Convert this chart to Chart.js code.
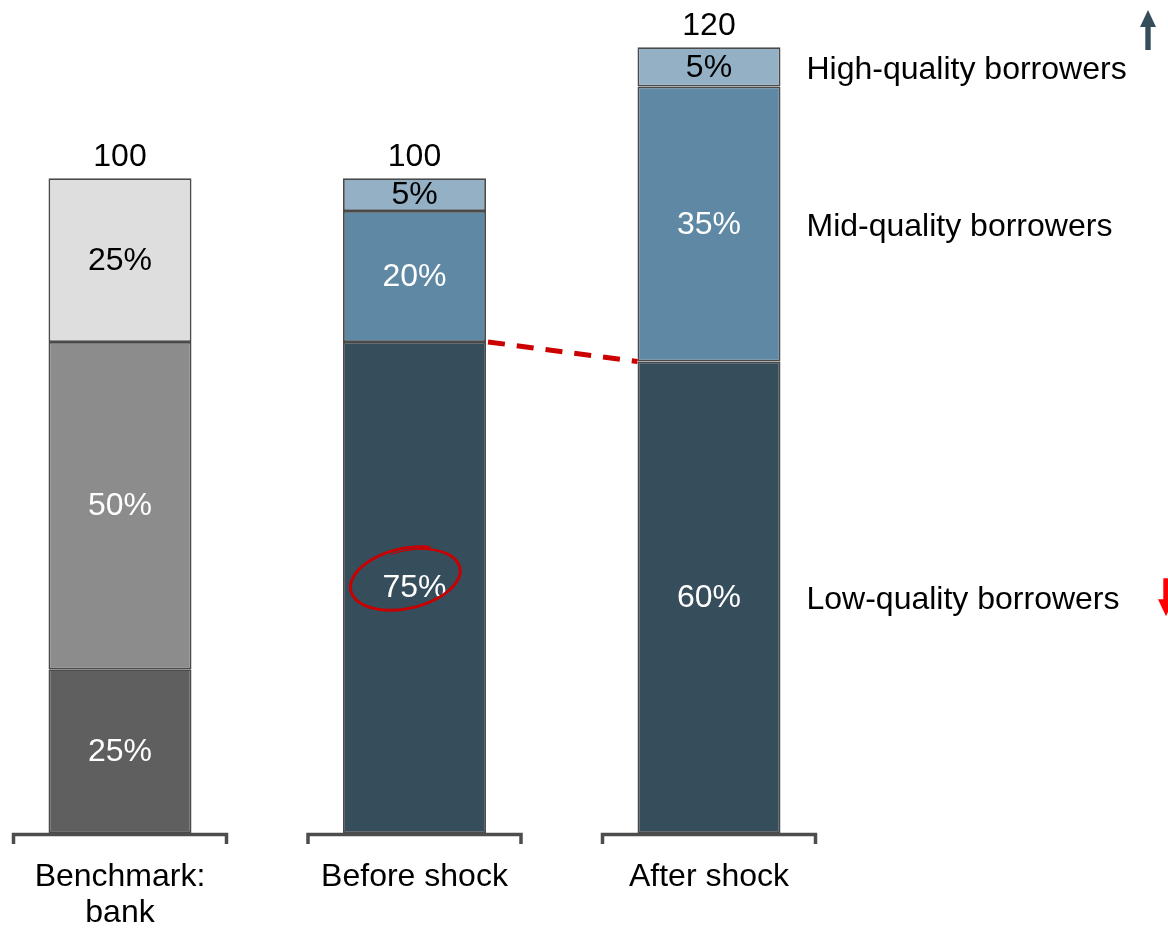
<!DOCTYPE html>
<html>
<head>
<meta charset="utf-8">
<style>
  html, body { margin: 0; padding: 0; background: #ffffff; }
  #wrap { width: 1168px; height: 929px; position: relative; }
</style>
<script src="https://cdn.jsdelivr.net/npm/chart.js@4.4.1/dist/chart.umd.min.js"></script>
</head>
<body>
<div id="wrap"><canvas id="c" width="1168" height="929"></canvas></div>
<script>
// Loan book composition by borrower quality
const categories = ['Benchmark:\nbank', 'Before shock', 'After shock'];
const totals = [100, 100, 120];
const lowShare = [25, 75, 60];
const midShare = [50, 20, 35];
const highShare = [25, 5, 5];
const seriesNames = ['Low-quality borrowers', 'Mid-quality borrowers', 'High-quality borrowers'];

const shares = [lowShare, midShare, highShare];
const FONT = '"Liberation Sans", Arial, Helvetica, sans-serif';

// benchmark bar is grey, the two scenario bars are blue
const fills = [
  ['#5f5f5f', '#364d5c', '#364d5c'],
  ['#8c8c8c', '#5f88a4', '#5f88a4'],
  ['#dedede', '#94b0c5', '#94b0c5']
];
const textColors = [
  ['#ffffff', '#ffffff', '#ffffff'],
  ['#ffffff', '#ffffff', '#ffffff'],
  ['#000000', '#000000', '#000000']
];

const datasets = shares.map((s, di) => ({
  label: seriesNames[di],
  data: s.map((pct, i) => ({ x: i, y: totals[i] * pct / 100 })),
  backgroundColor: fills[di],
  borderColor: '#4a4a4a',
  borderWidth: 1.8,
  borderSkipped: false,
  barPercentage: 0.4856,
  categoryPercentage: 1
}));

function arrow(ctx, cx, y0, y1, color) {
  // y0 = tail end, y1 = tip
  const dir = Math.sign(y1 - y0);
  const headLen = 17, headHalf = 8, shaftHalf = 2.7;
  const yHead = y1 - dir * headLen;
  ctx.fillStyle = color;
  ctx.fillRect(cx - shaftHalf, Math.min(y0, yHead), shaftHalf * 2, Math.abs(yHead - y0) + 1);
  ctx.beginPath();
  ctx.moveTo(cx - headHalf, yHead);
  ctx.lineTo(cx + headHalf, yHead);
  ctx.lineTo(cx, y1);
  ctx.closePath();
  ctx.fill();
}

const overlay = {
  id: 'overlay',
  afterDatasetsDraw(chart) {
    const ctx = chart.ctx;
    const metas = [0, 1, 2].map(i => chart.getDatasetMeta(i));
    const yBase = chart.chartArea.bottom;
    ctx.save();

    // bracket under each bar
    ctx.strokeStyle = '#4d4d4d';
    ctx.lineWidth = 3.5;
    ctx.lineJoin = 'miter';
    metas[0].data.forEach(bar => {
      const l = bar.x - 108, r = bar.x + 108;
      ctx.beginPath();
      ctx.moveTo(l + 1.5, yBase + 11);
      ctx.lineTo(l + 1.5, yBase + 1.5);
      ctx.lineTo(r - 1.5, yBase + 1.5);
      ctx.lineTo(r - 1.5, yBase + 11);
      ctx.stroke();
    });

    // segment shares
    ctx.font = '32px ' + FONT;
    ctx.textAlign = 'center';
    ctx.textBaseline = 'middle';
    metas.forEach((m, di) => m.data.forEach((bar, i) => {
      ctx.fillStyle = textColors[di][i];
      ctx.fillText(shares[di][i] + '%', bar.x, (bar.y + bar.base) / 2 + 1);
    }));

    // totals above bars
    ctx.fillStyle = '#000000';
    ctx.textBaseline = 'alphabetic';
    metas[2].data.forEach((bar, i) => {
      ctx.fillText(String(totals[i]), bar.x, bar.y - 12);
    });

    // series names beside the last bar
    const last = categories.length - 1;
    ctx.textAlign = 'left';
    ctx.textBaseline = 'middle';
    metas.forEach((m, di) => {
      const bar = m.data[last];
      ctx.fillText(seriesNames[di], bar.x + bar.width / 2 + 26, (bar.y + bar.base) / 2 + 3);
    });

    // dashed link between low-quality tops
    const b1 = metas[0].data[1], b2 = metas[0].data[2];
    ctx.strokeStyle = '#cc0000';
    ctx.lineWidth = 5;
    ctx.setLineDash([17, 12]);
    ctx.beginPath();
    ctx.moveTo(b1.x + b1.width / 2 + 2, b1.y);
    ctx.lineTo(b2.x - b2.width / 2, b2.y);
    ctx.stroke();
    ctx.setLineDash([]);

    // hand-drawn ring around the 75%
    const cx = b1.x - 9, cy = (b1.y + b1.base) / 2 - 9;
    ctx.translate(cx, cy);
    ctx.rotate(-0.22);
    ctx.strokeStyle = '#c80000';
    ctx.lineCap = 'round';
    const t0 = -1.75, t1 = t0 + Math.PI * 2 + 0.75;
    const steps = 140;
    for (let k = 0; k < steps; k++) {
      const ta = t0 + (t1 - t0) * k / steps;
      const tb = t0 + (t1 - t0) * (k + 1) / steps;
      const fa = 0.9 + 0.1 * Math.min(1, k / 40);
      const fb = 0.9 + 0.1 * Math.min(1, (k + 1) / 40);
      ctx.lineWidth = 0.8 + 1.9 * Math.min(1, k / 25);
      ctx.beginPath();
      ctx.moveTo(56 * fa * Math.cos(ta), 30 * fa * Math.sin(ta));
      ctx.lineTo(56 * fb * Math.cos(tb), 30 * fb * Math.sin(tb));
      ctx.stroke();
    }
    ctx.setTransform(1, 0, 0, 1, 0, 0);

    // direction arrows
    arrow(ctx, 1148, 49, 10, '#364d5c');
    const low = metas[0].data[last];
    const ly = (low.y + low.base) / 2 + 3;
    arrow(ctx, 1166, ly - 22, ly + 16, '#ff0000');

    ctx.restore();
  }
};

new Chart(document.getElementById('c'), {
  type: 'bar',
  data: { datasets },
  plugins: [overlay],
  options: {
    responsive: false,
    animation: false,
    devicePixelRatio: 1,
    layout: { padding: { top: 8, left: 0, right: 0, bottom: 0 } },
    plugins: { legend: { display: false }, tooltip: { enabled: false } },
    scales: {
      x: {
        type: 'linear',
        stacked: true,
        offset: false,
        min: -0.4075,
        max: 3.5586,
        grid: { display: false, drawTicks: false, offset: false },
        border: { display: false },
        ticks: {
          stepSize: 1,
          includeBounds: false,
          autoSkip: false,
          maxRotation: 0,
          padding: 26,
          color: '#000000',
          font: { size: 32, family: FONT, lineHeight: 1.12 },
          callback: v => (Number.isInteger(v) && categories[v]) ? categories[v].split('\n') : ''
        },
        afterFit: s => { s.height = 96; }
      },
      y: { display: false, stacked: true, min: 0, max: 126 }
    }
  }
});
</script>
</body>
</html>
